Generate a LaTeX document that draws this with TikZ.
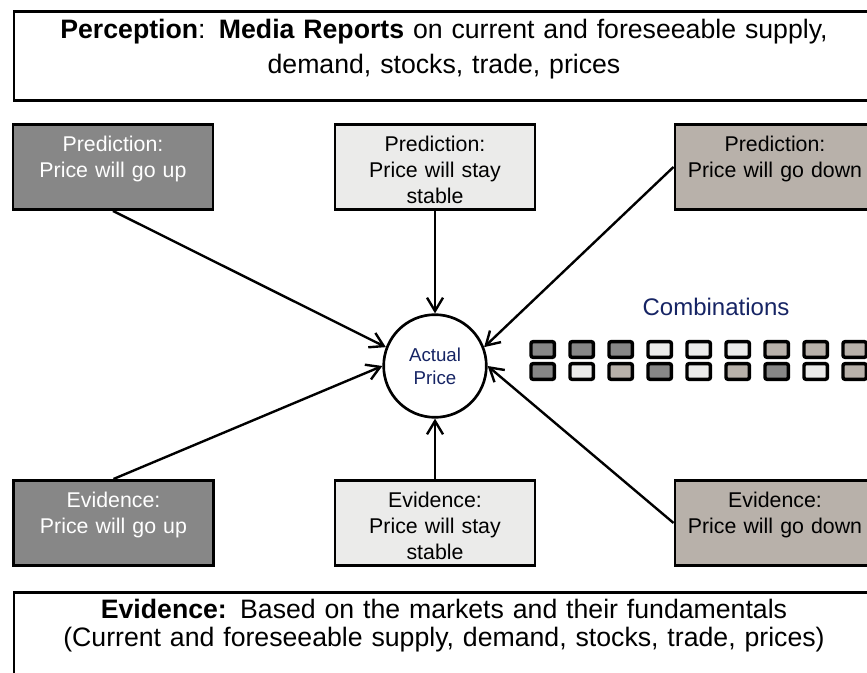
\documentclass[tikz,border=0pt]{standalone}
\usepackage{fontspec}
\setmainfont{Liberation Sans}
\usetikzlibrary{arrows.meta}

\definecolor{upgray}{RGB}{135,135,135}
\definecolor{stablegray}{RGB}{235,235,234}
\definecolor{downtaupe}{RGB}{184,177,170}
\definecolor{navy}{RGB}{22,36,100}

\begin{document}
\begin{tikzpicture}[x=0.75pt,y=-0.75pt,
  bigbox/.style={draw,line width=2.2pt,text width=645pt,inner xsep=0pt,inner ysep=0pt,align=center,anchor=north},
  smallbox/.style={draw,line width=2.2pt,text width=150pt,inner xsep=0pt,inner ysep=0pt,align=center,anchor=north,
    text height=20.25pt,text depth=43.5pt,font=\fontsize{16}{19.5}\selectfont},
  link/.style={line width=1.8pt,-{Straight Barb[length=10pt,width=12pt,line width=1.8pt]}},
  combo/.style={line width=2.6pt,rounded corners=1.5pt}]
  \useasboundingbox (0,0) rectangle (867,673);
  \clip (0,0) rectangle (867,673);

  \node[bigbox,text height=20.25pt,text depth=46.5pt,font=\fontsize{20}{26}\selectfont] (perc) at (444,10)
    {\textbf{Perception}: \textbf{Media Reports} on current and foreseeable supply,\\demand, stocks, trade, prices};
  \node[bigbox,text height=19.5pt,text depth=100pt,font=\fontsize{20}{21}\selectfont] (evid) at (444,591)
    {\textbf{Evidence:} Based on the markets and their fundamentals\\(Current and foreseeable supply, demand, stocks, trade, prices)};

  \node[smallbox,fill=upgray,text=white] (pu) at (113,123) {Prediction:\\Price will go up};
  \node[smallbox,fill=stablegray] (ps) at (435,123) {Prediction:\\Price will stay\\stable};
  \node[smallbox,fill=downtaupe] (pd) at (775,123) {Prediction:\\Price will go down};
  \node[smallbox,fill=upgray,text=white] (eu) at (113.5,479) {Evidence:\\Price will go up};
  \node[smallbox,fill=stablegray] (es) at (435,479) {Evidence:\\Price will stay\\stable};
  \node[smallbox,fill=downtaupe] (ed) at (775,479) {Evidence:\\Price will go down};

  \node[circle,draw,line width=2pt,minimum size=77pt,inner sep=0pt,align=center,text=navy,
    font=\fontsize{14}{17}\selectfont] (price) at (435,366) {Actual\\Price};

  \draw[link] (pu.south) -- (price.159);
  \draw[link] (ps.south) -- (price.north);
  \draw[link] (pd.west) -- (price.21);
  \draw[link] (eu.north) -- (price.west);
  \draw[link] (es.north) -- (price.south);
  \draw[link] (ed.west) -- (price.east);

  \node[text=navy,font=\fontsize{18}{20}\selectfont] (combi) at (716,307) {Combinations};
  % prediction on top, evidence below
  \foreach \ca/\cb [count=\i from 0] in {upgray/upgray,upgray/stablegray,upgray/downtaupe,
      stablegray/upgray,stablegray/stablegray,stablegray/downtaupe,
      downtaupe/upgray,downtaupe/stablegray,downtaupe/downtaupe}{
    \draw[combo,fill=\ca] (531+39*\i,341.7) rectangle +(23.4,15.6);
    \draw[combo,fill=\cb] (531+39*\i,363.7) rectangle +(23.4,15.6);
  }
\end{tikzpicture}
\end{document}
